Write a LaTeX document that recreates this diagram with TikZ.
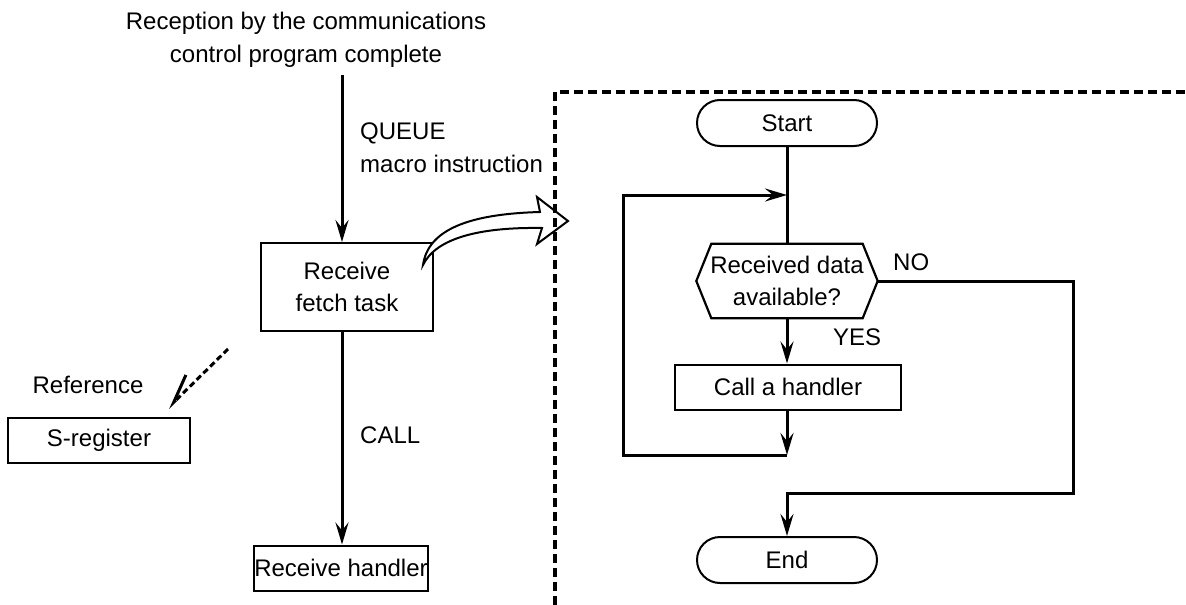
\documentclass[tikz,border=0pt]{standalone}
\usepackage{fontspec}
\setmainfont{Liberation Sans}
\usetikzlibrary{arrows.meta,calc,positioning}
\definecolor{ink}{RGB}{0,0,0}
\tikzset{
  txt/.style={font=\fontsize{24}{33}\selectfont, inner sep=0pt},
  procbox/.style={
    draw=ink, line width=2pt, align=center, inner sep=0pt,
    font=\fontsize{24}{32}\selectfont,
  },
  termbox/.style={
    draw=ink, line width=2pt, rounded corners=23pt,
    minimum width=180pt, minimum height=46pt, inner sep=0pt,
    font=\fontsize{24}{32}\selectfont,
  },
  decbox/.style={
    minimum width=181pt, minimum height=74pt, align=center, inner sep=0pt,
    font=\fontsize{24}{32}\selectfont,
  },
  lbl/.style={txt, align=left, anchor=west},
  arr/.style={-{Stealth[length=22pt,width=13pt,inset=8pt]}, line width=3pt, draw=ink},
  wire/.style={line width=3pt, draw=ink},
  refarr/.style={-{Straight Barb[right,length=28pt,width=22pt]}, line width=3pt,
    dash pattern=on 6pt off 3.5pt, draw=ink},
  frame/.style={line width=4.5pt, dash pattern=on 9pt off 5pt, draw=ink},
}

\begin{document}
\begin{tikzpicture}[x=1pt,y=-1pt]
  \useasboundingbox (0,0) rectangle (1186,605);

  % left side: task and handler
  \node[txt, align=center] (evt) at (306,40) {Reception by the communications\\control program complete};
  \coordinate (qin) at (342,75);
  \node[procbox, minimum width=172pt, minimum height=88pt] (fetch) at (347,287) {Receive\\fetch task};
  \node[procbox, minimum width=172pt, minimum height=45pt] (hdl) at (341,568) {Receive handler};
  \node[procbox, minimum width=182pt, minimum height=45pt] (sreg) at (99,440) {S-register};
  \node[txt] (ref) at (88,385) {Reference};
  \coordinate (reftail) at (228,349);
  \coordinate (refhead) at (168,408);

  \draw[arr] (qin) -- (qin |- fetch.north);
  \node[lbl] (queue) at (360,148) {QUEUE\\macro instruction};
  \draw[arr] (qin |- fetch.south) -- (qin |- hdl.north);
  \node[lbl] (call) at (360,435) {CALL};
  \draw[refarr] (reftail) -- (refhead);

  % hollow arrow into the expanded view
  \draw[line width=2pt, fill=white] (423,265) .. controls (428,230) and (468,214) .. (540,212)
    -- (537,197) -- (568,221) -- (537,244) -- (542,228)
    .. controls (480,227) and (436,238) .. cycle;

  % frame of the expanded view
  \draw[frame] (555,605) -- (555,92) -- (1186,92);

  % right side: flowchart
  \node[termbox] (start) at (787,123) {Start};
  \node[decbox] (dec) at (787,281) {Received data\\available?};
  \draw[line width=2.2pt] (dec.west) -- ($(dec.north west)+(15,0)$) -- ($(dec.north east)+(-15,0)$)
    -- (dec.east) -- ($(dec.south east)+(-15,0)$) -- ($(dec.south west)+(15,0)$) -- cycle;
  \node[procbox, minimum width=226pt, minimum height=45pt] (callh) at (788,387) {Call a handler};
  \node[termbox] (stop) at (787,560) {End};

  \coordinate (loopin) at (787,195);
  \coordinate (loopout) at (787,455);
  \coordinate (noturn) at (1073,281);
  \coordinate (nodown) at (1073,493);
  \coordinate (nojoin) at (787,493);

  \draw[wire] (start.south) -- (dec.north);
  \draw[arr] (callh.south -| loopout) -- (loopout);
  \draw[arr] (loopout) -- (623,455) -- (623,195) -- (loopin);
  \draw[arr] (dec.south) -- (dec.south |- callh.north);
  \node[lbl] (yes) at (833,337) {YES};
  \draw[arr] (dec.east) -- (noturn) -- (nodown) -- (nojoin) -- (stop.north);
  \node[lbl] (no) at (893,262) {NO};
\end{tikzpicture}
\end{document}
